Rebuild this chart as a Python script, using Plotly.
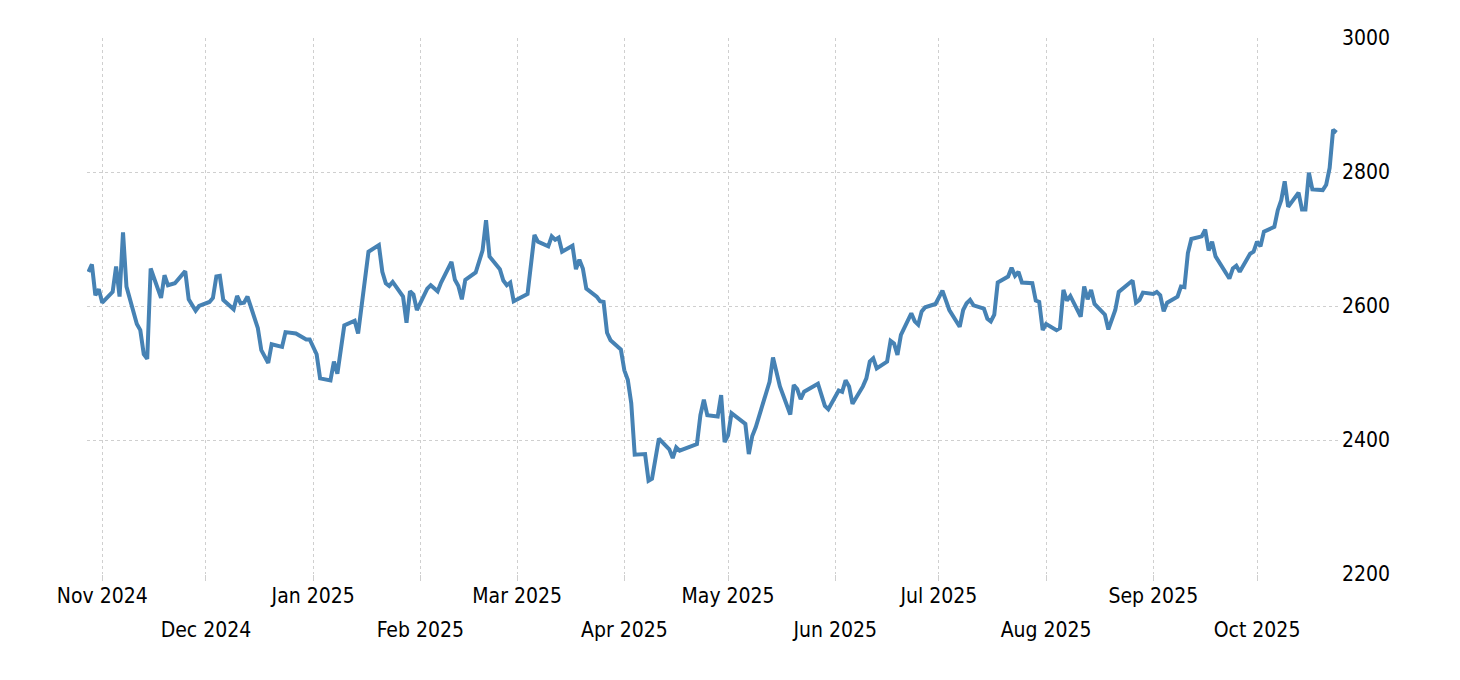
import plotly.graph_objects as go

dates = [
    "2024-10-28", "2024-10-29", "2024-10-30", "2024-10-31", "2024-11-01",
    "2024-11-04", "2024-11-05", "2024-11-06", "2024-11-07", "2024-11-08",
    "2024-11-11", "2024-11-12", "2024-11-13", "2024-11-14", "2024-11-15",
    "2024-11-18", "2024-11-19", "2024-11-20", "2024-11-22",
    "2024-11-25", "2024-11-26", "2024-11-28", "2024-11-29",
    "2024-12-02", "2024-12-03", "2024-12-04", "2024-12-05", "2024-12-06",
    "2024-12-09", "2024-12-10", "2024-12-11", "2024-12-12", "2024-12-13",
    "2024-12-16", "2024-12-17", "2024-12-19", "2024-12-20",
    "2024-12-23", "2024-12-24", "2024-12-27", "2024-12-30", "2024-12-31",
    "2025-01-02", "2025-01-03", "2025-01-06", "2025-01-07", "2025-01-08", "2025-01-10",
    "2025-01-13", "2025-01-14", "2025-01-17",
    "2025-01-20", "2025-01-21", "2025-01-22", "2025-01-23", "2025-01-24",
    "2025-01-27", "2025-01-28", "2025-01-29", "2025-01-30", "2025-01-31",
    "2025-02-03", "2025-02-04", "2025-02-06", "2025-02-07",
    "2025-02-10", "2025-02-11", "2025-02-12", "2025-02-13", "2025-02-14",
    "2025-02-17", "2025-02-19", "2025-02-20", "2025-02-21",
    "2025-02-24", "2025-02-25", "2025-02-26", "2025-02-27", "2025-02-28",
    "2025-03-03", "2025-03-04", "2025-03-06", "2025-03-07",
    "2025-03-10", "2025-03-11", "2025-03-12", "2025-03-13", "2025-03-14",
    "2025-03-17", "2025-03-18", "2025-03-19", "2025-03-20", "2025-03-21",
    "2025-03-24", "2025-03-25", "2025-03-26", "2025-03-27", "2025-03-28",
    "2025-03-31", "2025-04-01", "2025-04-02", "2025-04-03", "2025-04-04",
    "2025-04-07", "2025-04-08", "2025-04-09", "2025-04-11",
    "2025-04-14", "2025-04-15", "2025-04-16", "2025-04-17",
    "2025-04-22", "2025-04-23", "2025-04-24", "2025-04-25",
    "2025-04-28", "2025-04-29", "2025-04-30", "2025-05-01", "2025-05-02",
    "2025-05-06", "2025-05-07", "2025-05-08", "2025-05-09",
    "2025-05-13", "2025-05-14", "2025-05-16",
    "2025-05-19", "2025-05-20", "2025-05-21", "2025-05-22", "2025-05-23",
    "2025-05-27", "2025-05-29", "2025-05-30",
    "2025-06-02", "2025-06-03", "2025-06-04", "2025-06-05", "2025-06-06",
    "2025-06-09", "2025-06-10", "2025-06-11", "2025-06-12", "2025-06-13",
    "2025-06-16", "2025-06-17", "2025-06-18", "2025-06-19", "2025-06-20",
    "2025-06-23", "2025-06-24", "2025-06-25", "2025-06-26", "2025-06-27",
    "2025-06-30", "2025-07-02", "2025-07-04",
    "2025-07-07", "2025-07-08", "2025-07-09", "2025-07-10", "2025-07-11",
    "2025-07-14", "2025-07-15", "2025-07-16", "2025-07-17", "2025-07-18",
    "2025-07-21", "2025-07-22", "2025-07-23", "2025-07-24", "2025-07-25",
    "2025-07-28", "2025-07-29", "2025-07-30", "2025-07-31", "2025-08-01",
    "2025-08-04", "2025-08-05", "2025-08-06", "2025-08-07", "2025-08-08",
    "2025-08-11", "2025-08-12", "2025-08-13", "2025-08-14", "2025-08-15",
    "2025-08-18", "2025-08-19", "2025-08-20", "2025-08-21", "2025-08-22",
    "2025-08-26", "2025-08-27", "2025-08-28", "2025-08-29",
    "2025-09-01", "2025-09-02", "2025-09-03", "2025-09-04", "2025-09-05",
    "2025-09-08", "2025-09-09", "2025-09-10", "2025-09-11", "2025-09-12",
    "2025-09-15", "2025-09-16", "2025-09-17", "2025-09-18", "2025-09-19",
    "2025-09-23", "2025-09-24", "2025-09-25", "2025-09-26",
    "2025-09-29", "2025-09-30", "2025-10-01", "2025-10-02", "2025-10-03",
    "2025-10-06", "2025-10-07", "2025-10-08", "2025-10-09", "2025-10-10",
    "2025-10-13", "2025-10-14", "2025-10-15", "2025-10-16", "2025-10-17",
    "2025-10-20", "2025-10-21", "2025-10-22", "2025-10-23", "2025-10-24",
]

values = [
    2651, 2662, 2616, 2625, 2605,
    2621, 2659, 2614, 2710, 2629,
    2573, 2564, 2528, 2521, 2656,
    2612, 2646, 2631, 2634,
    2652, 2610, 2593, 2600,
    2606, 2612, 2644, 2645, 2609,
    2595, 2615, 2604, 2605, 2614,
    2567, 2534, 2515, 2543,
    2539, 2561, 2559, 2550, 2550,
    2528, 2492, 2489, 2517, 2499, 2571,
    2578, 2559, 2681,
    2691, 2651, 2634, 2630, 2636,
    2614, 2575, 2622, 2617, 2594,
    2626, 2631, 2622, 2635,
    2666, 2639, 2630, 2610, 2639,
    2650, 2683, 2728, 2674,
    2655, 2638, 2631, 2635, 2607,
    2616, 2618, 2706, 2696,
    2689, 2704, 2699, 2702, 2681,
    2690, 2655, 2669, 2656, 2626,
    2614, 2607, 2606, 2560, 2549,
    2535, 2504, 2490, 2455, 2378,
    2379, 2339, 2342, 2402,
    2386, 2373, 2389, 2384,
    2394, 2437, 2460, 2437,
    2435, 2467, 2397, 2407, 2440,
    2424, 2379, 2406, 2419,
    2487, 2523, 2480,
    2438, 2482, 2476, 2461, 2472,
    2484, 2451, 2446,
    2474, 2472, 2489, 2480, 2454,
    2480, 2492, 2517, 2522, 2507,
    2517, 2548, 2544, 2527, 2557,
    2589, 2577, 2572, 2592, 2598,
    2603, 2623, 2594,
    2569, 2594, 2604, 2609, 2601,
    2596, 2581, 2577, 2587, 2635,
    2644, 2657, 2645, 2651, 2635,
    2634, 2608, 2606, 2564, 2573,
    2564, 2567, 2624, 2608, 2615,
    2584, 2629, 2610, 2624, 2603,
    2587, 2565, 2579, 2594, 2621,
    2638, 2605, 2609, 2620,
    2618, 2621, 2616, 2592, 2605,
    2614, 2629, 2628, 2679, 2700,
    2704, 2714, 2683, 2696, 2674,
    2641, 2656, 2660, 2651,
    2678, 2681, 2696, 2689, 2711,
    2718, 2743, 2758, 2786, 2748,
    2769, 2744, 2744, 2799, 2774,
    2773, 2781, 2806, 2863, 2859,
]

month_ticks = [
    "2024-11-01", "2024-12-01", "2025-01-01", "2025-02-01", "2025-03-01",
    "2025-04-01", "2025-05-01", "2025-06-01", "2025-07-01", "2025-08-01",
    "2025-09-01", "2025-10-01",
]
month_labels = [
    "Nov 2024", "Dec 2024", "Jan 2025", "Feb 2025", "Mar 2025", "Apr 2025",
    "May 2025", "Jun 2025", "Jul 2025", "Aug 2025", "Sep 2025", "Oct 2025",
]
y_ticks = [2200, 2400, 2600, 2800, 3000]

x_range = ["2024-10-27 14:00", "2025-10-24 10:00"]
FONT = "DejaVu Sans Condensed, Liberation Sans, sans-serif"
GRID = "#cfcfcf"

row1_text = [lab if i % 2 == 0 else "" for i, lab in enumerate(month_labels)]
row2_vals = [t for i, t in enumerate(month_ticks) if i % 2 == 1]
row2_text = [lab for i, lab in enumerate(month_labels) if i % 2 == 1]

fig = go.Figure()
fig.add_trace(go.Scatter(
    x=dates, y=values, mode="lines",
    line=dict(color="#4682b4", width=4),
    showlegend=False, hoverinfo="x+y",
))
fig.add_trace(go.Scatter(
    x=dates, y=values, mode="lines", xaxis="x2", yaxis="y",
    line=dict(color="rgba(0,0,0,0)", width=0),
    showlegend=False, hoverinfo="skip",
))

fig.update_layout(
    width=1452, height=672,
    margin=dict(l=79, r=122, t=30, b=106),
    paper_bgcolor="white", plot_bgcolor="white",
    font=dict(family=FONT, size=21, color="#000000"),
    xaxis=dict(
        type="date", range=x_range,
        tickvals=month_ticks, ticktext=row1_text,
        showgrid=True, gridcolor=GRID, griddash="dot", gridwidth=1,
        ticks="outside", ticklen=6, tickcolor=GRID, tickwidth=1,
        showline=False, zeroline=False,
        ticklabelstandoff=-3,
        tickfont=dict(family=FONT, size=21, color="#000000"),
    ),
    xaxis2=dict(
        type="date", range=x_range, overlaying="x", side="bottom",
        anchor="y", matches="x",
        tickvals=row2_vals, ticktext=row2_text,
        showgrid=False, ticks="", showline=False, zeroline=False,
        ticklabelstandoff=41,
        tickfont=dict(family=FONT, size=21, color="#000000"),
    ),
    yaxis=dict(
        side="right", range=[2200, 3000], tickvals=y_ticks,
        showgrid=True, gridcolor=GRID, griddash="dot", gridwidth=1,
        ticks="", showline=False, zeroline=False,
        ticklabelstandoff=3,
        tickfont=dict(family=FONT, size=21, color="#000000"),
    ),
)

fig.write_html("out.html")
